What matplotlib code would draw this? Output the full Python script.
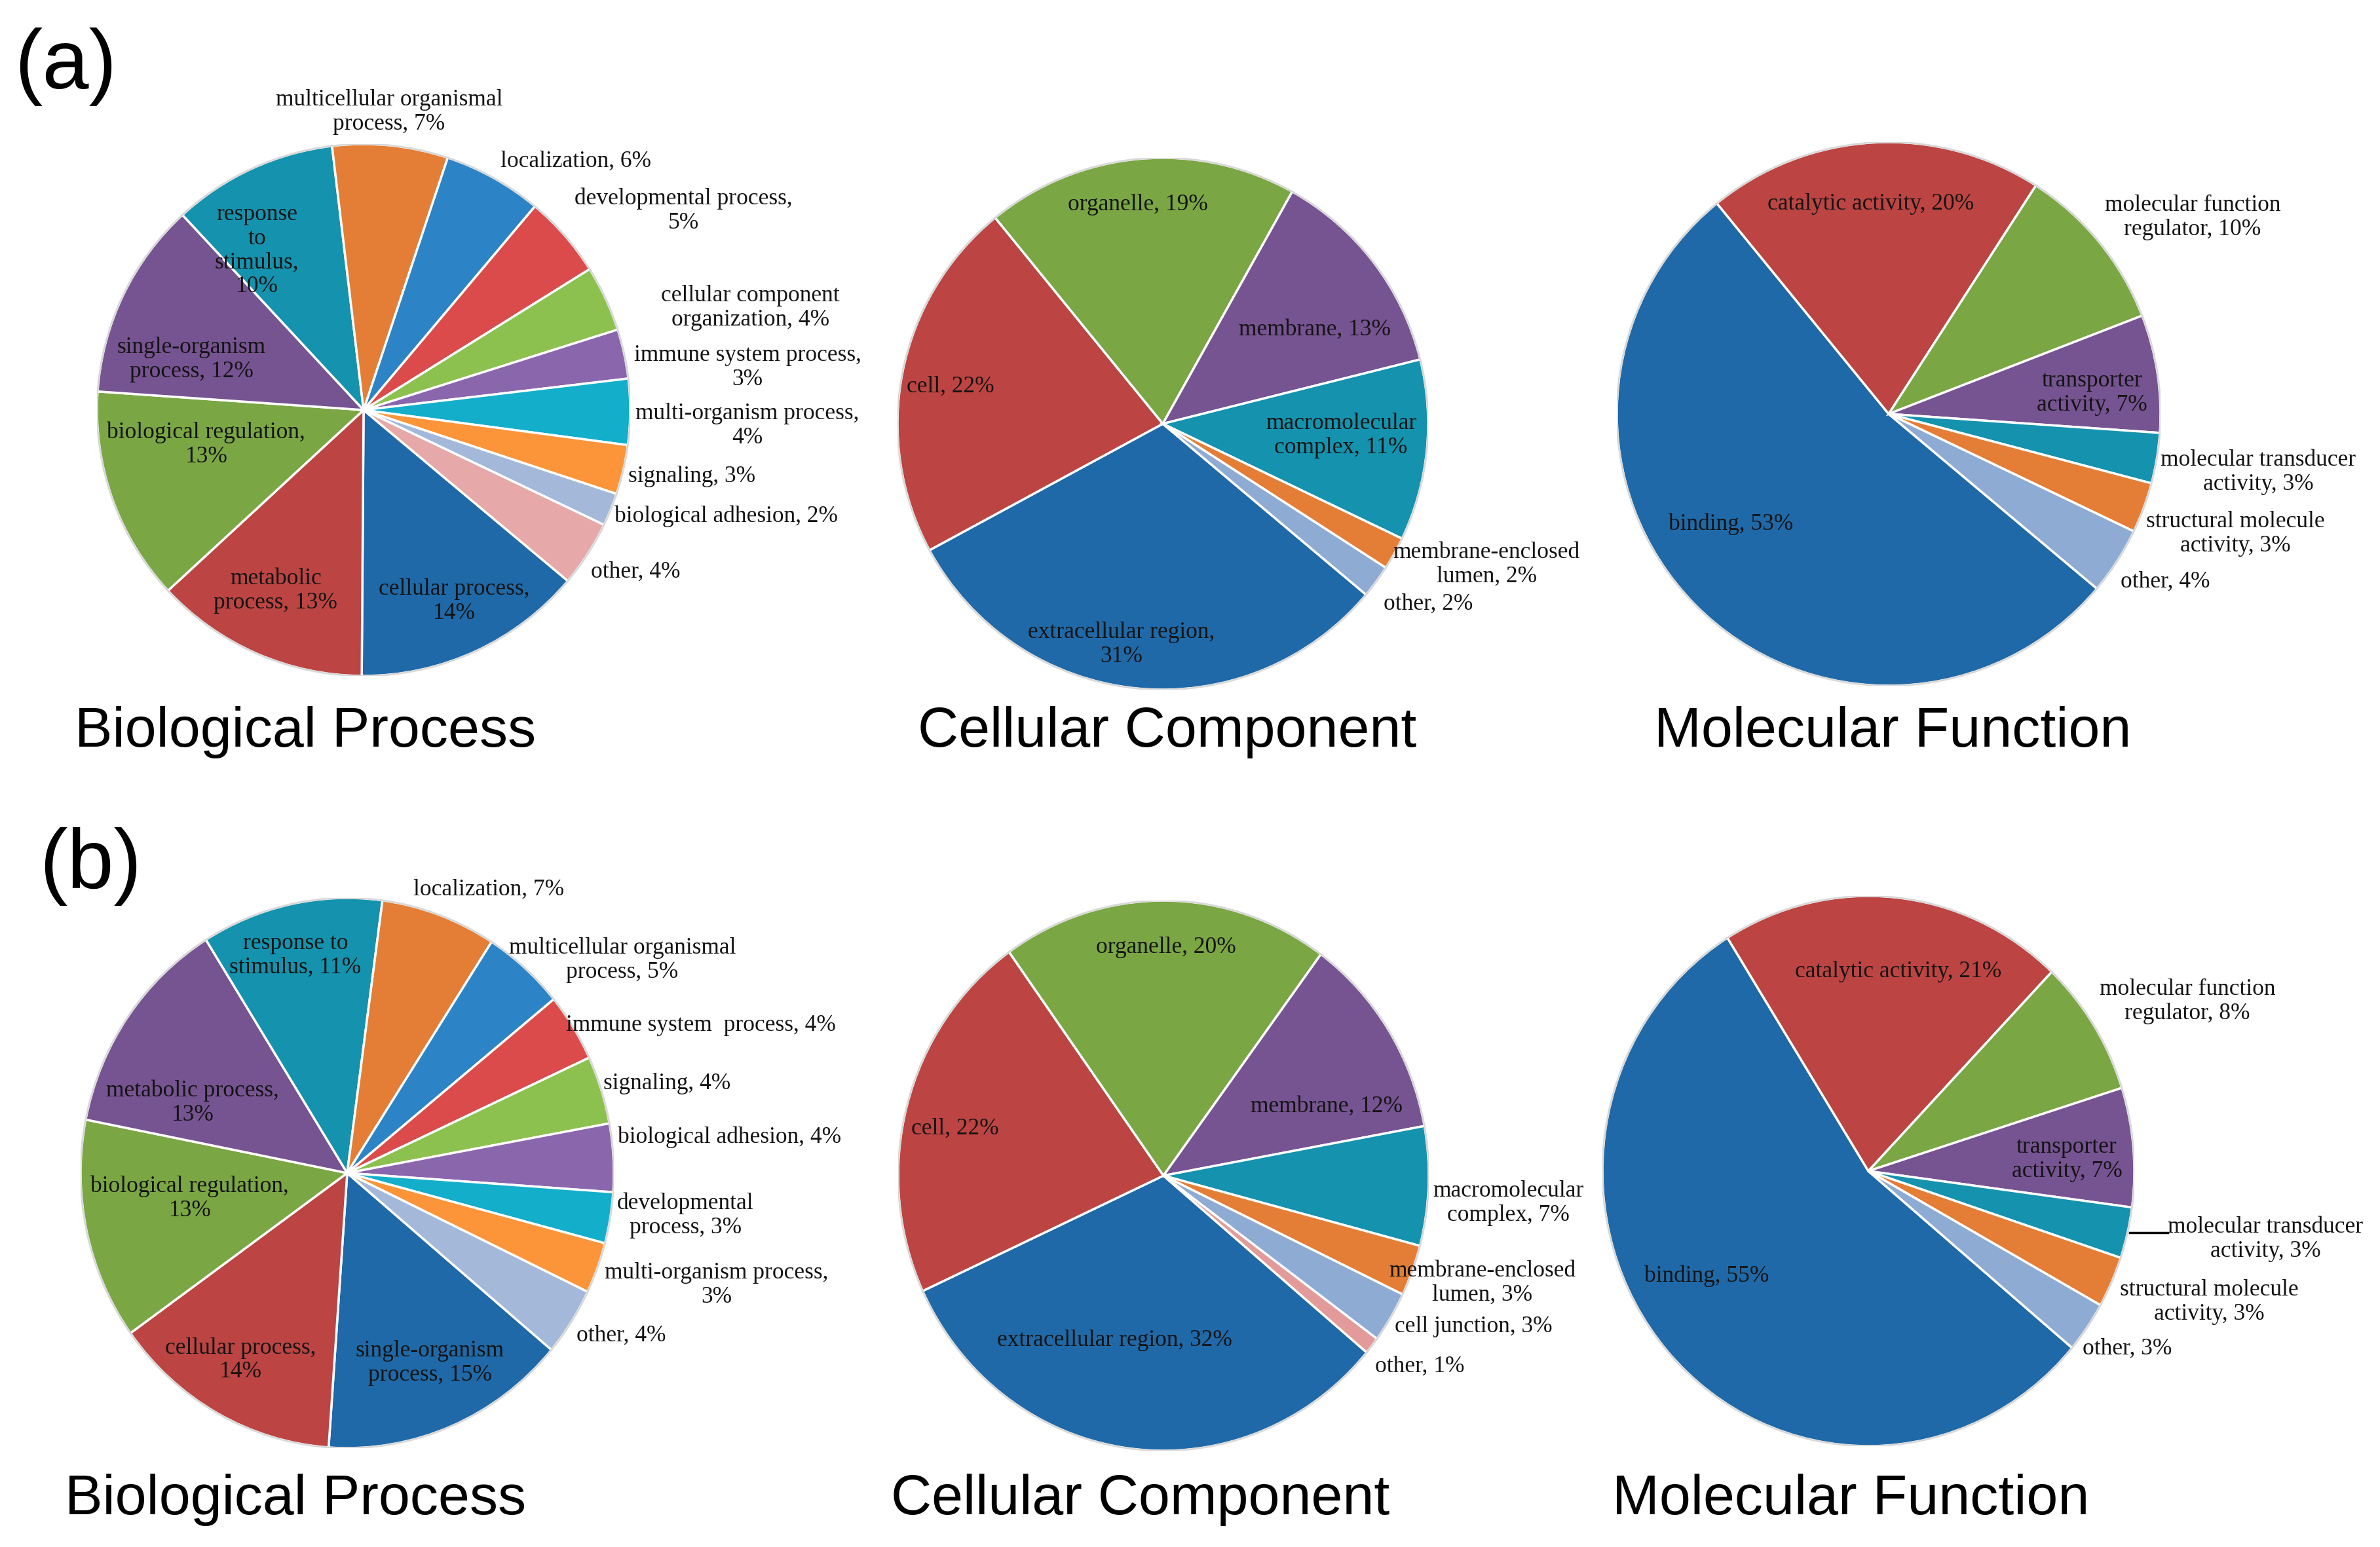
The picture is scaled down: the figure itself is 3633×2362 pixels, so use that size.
import matplotlib
matplotlib.use('Agg')
import matplotlib.pyplot as plt

### Data: GO category shares (percent), listed clockwise
## (a) Biological Process
a_bp_vals = [14, 13, 13, 12, 10, 7, 6, 5, 4, 3, 4, 3, 2, 4]
a_bp_text = ['cellular process,\n{}%', 'metabolic\nprocess, {}%', 'biological regulation,\n{}%',
             'single-organism\nprocess, {}%', 'response\nto\nstimulus,\n{}%',
             'multicellular organismal\nprocess, {}%', 'localization, {}%',
             'developmental process,\n{}%', 'cellular component\norganization, {}%',
             'immune system process,\n{}%', 'multi-organism process,\n{}%', 'signaling, {}%',
             'biological adhesion, {}%', 'other, {}%']
## (a) Cellular Component
a_cc_vals = [31, 22, 19, 13, 11, 2, 2]
a_cc_text = ['extracellular region,\n{}%', 'cell, {}%', 'organelle, {}%', 'membrane, {}%',
             'macromolecular\ncomplex, {}%', 'membrane-enclosed\nlumen, {}%', 'other, {}%']
## (a) Molecular Function
a_mf_vals = [53, 20, 10, 7, 3, 3, 4]
a_mf_text = ['binding, {}%', 'catalytic activity, {}%', 'molecular function\nregulator, {}%',
             'transporter\nactivity, {}%', 'molecular transducer\nactivity, {}%',
             'structural molecule\nactivity, {}%', 'other, {}%']
## (b) Biological Process
b_bp_vals = [15, 14, 13, 13, 11, 7, 5, 4, 4, 4, 3, 3, 4]
b_bp_text = ['single-organism\nprocess, {}%', 'cellular process,\n{}%', 'biological regulation,\n{}%',
             'metabolic process,\n{}%', 'response to\nstimulus, {}%', 'localization, {}%',
             'multicellular organismal\nprocess, {}%', 'immune system  process, {}%',
             'signaling, {}%', 'biological adhesion, {}%', 'developmental\nprocess, {}%',
             'multi-organism process,\n{}%', 'other, {}%']
## (b) Cellular Component
b_cc_vals = [32, 22, 20, 12, 7, 3, 3, 1]
b_cc_text = ['extracellular region, {}%', 'cell, {}%', 'organelle, {}%', 'membrane, {}%',
             'macromolecular\ncomplex, {}%', 'membrane-enclosed\nlumen, {}%',
             'cell junction, {}%', 'other, {}%']
## (b) Molecular Function
b_mf_vals = [55, 21, 8, 7, 3, 3, 3]
b_mf_text = ['binding, {}%', 'catalytic activity, {}%', 'molecular function\nregulator, {}%',
             'transporter\nactivity, {}%', 'molecular transducer\nactivity, {}%',
             'structural molecule\nactivity, {}%', 'other, {}%']

### Colours (Excel-like palette)
BLUE, RED, GREEN, PURPLE, TEAL, ORANGE = '#1F69A8', '#BC4442', '#7BA644', '#765391', '#1592AD', '#E47E36'
BLUE2, RED2, GREEN2, PURPLE2, TEAL2, ORANGE2 = '#2C84C6', '#DB4B4B', '#8DC14F', '#8A66AC', '#13AECA', '#FC9539'
LBLUE, LBLUE2, PINK, PINK2 = '#A4B9DA', '#8EABD4', '#E6A8A8', '#E39A9A'

a_bp_cols = [BLUE, RED, GREEN, PURPLE, TEAL, ORANGE, BLUE2, RED2, GREEN2, PURPLE2, TEAL2, ORANGE2, LBLUE, PINK]
a_cc_cols = [BLUE, RED, GREEN, PURPLE, TEAL, ORANGE, LBLUE2]
a_mf_cols = [BLUE, RED, GREEN, PURPLE, TEAL, ORANGE, LBLUE2]
b_bp_cols = [BLUE, RED, GREEN, PURPLE, TEAL, ORANGE, BLUE2, RED2, GREEN2, PURPLE2, TEAL2, ORANGE2, LBLUE]
b_cc_cols = [BLUE, RED, GREEN, PURPLE, TEAL, ORANGE, LBLUE2, PINK2]
b_mf_cols = [BLUE, RED, GREEN, PURPLE, TEAL, ORANGE, LBLUE2]

### Label positions, in pie-radius units from the centre
a_bp_pos = [(0.34, -0.72), (-0.33, -0.68), (-0.59, -0.13), (-0.645, 0.19), (-0.40, 0.60),
            (0.096, 1.12), (0.795, 0.936), (1.20, 0.75), (1.45, 0.385), (1.44, 0.16),
            (1.44, -0.06), (1.23, -0.25), (1.36, -0.40), (1.02, -0.61)]
a_cc_pos = [(-0.156, -0.83), (-0.80, 0.14), (-0.094, 0.825), (0.573, 0.353), (0.672, -0.044),
            (1.22, -0.53), (1.00, -0.677)]
a_mf_pos = [(-0.58, -0.405), (-0.065, 0.773), (1.118, 0.723), (0.749, 0.077), (1.36, -0.214),
            (1.275, -0.441), (1.017, -0.617)]
b_bp_pos = [(0.31, -0.69), (-0.40, -0.68), (-0.59, -0.093), (-0.58, 0.255), (-0.194, 0.79),
            (0.531, 1.03), (1.032, 0.774), (1.327, 0.536), (1.199, 0.324), (1.435, 0.131),
            (1.268, -0.155), (1.386, -0.407), (1.027, -0.59)]
b_cc_pos = [(-0.185, -0.598), (-0.785, 0.171), (0.01, 0.829), (0.615, 0.252), (1.301, -0.10),
            (1.202, -0.39), (1.168, -0.548), (0.965, -0.693)]
b_mf_pos = [(-0.608, -0.381), (0.113, 0.726), (1.20, 0.617), (0.746, 0.043), (1.493, -0.248),
            (1.281, -0.476), (0.973, -0.645)]

### Figure parameters (pixel layout of a 3633 x 2362 canvas)
W, H = 3633, 2362
fig = plt.figure(figsize=(W / 100, H / 100), dpi=100)
LABEL_FONT = 'Liberation Serif'
TITLE_FONT = 'Liberation Sans'


def draw_pie(cx, cy, rx, ry, vals, cols, texts, pos):
    ax = fig.add_axes([(cx - rx) / W, 1 - (cy + ry) / H, 2 * rx / W, 2 * ry / H])
    ax.pie(vals, colors=cols, startangle=-40, counterclock=False, radius=1,
           wedgeprops=dict(edgecolor='white', linewidth=2.5))
    ax.add_patch(plt.Circle((0, 0), 1.0, fill=False, edgecolor='#d8d8d8', linewidth=2))
    ax.set_aspect('auto')
    ax.set_xlim(-1, 1)
    ax.set_ylim(-1, 1)
    ax.axis('off')
    for v, t, (ux, uy) in zip(vals, texts, pos):
        ax.text(ux, uy, t.format(v), ha='center', va='center', fontsize=25.5,
                family=LABEL_FONT, color='#141414', linespacing=1.15)
    return ax


draw_pie(555, 626, 407, 406, a_bp_vals, a_bp_cols, a_bp_text, a_bp_pos)
draw_pie(1775, 647, 405, 406, a_cc_vals, a_cc_cols, a_cc_text, a_cc_pos)
draw_pie(2883, 632, 415, 415, a_mf_vals, a_mf_cols, a_mf_text, a_mf_pos)
draw_pie(530, 1791, 407, 420, b_bp_vals, b_bp_cols, b_bp_text, b_bp_pos)
draw_pie(1776, 1795, 405, 420, b_cc_vals, b_cc_cols, b_cc_text, b_cc_pos)
ax_bmf = draw_pie(2852, 1788, 406, 420, b_mf_vals, b_mf_cols, b_mf_text, b_mf_pos)
## leader line for the transducer label
ax_bmf.plot([0.983, 1.126], [-0.224, -0.224], color='black', lw=2.5, clip_on=False)

### Panel titles
titles = ['Biological Process', 'Cellular Component', 'Molecular Function']
for x, t in zip([466, 1782, 2889], titles):
    fig.text(x / W, 1 - 1140 / H, t, ha='center', va='baseline', fontsize=62, family=TITLE_FONT)
for x, t in zip([451, 1741, 2825], titles):
    fig.text(x / W, 1 - 2312 / H, t, ha='center', va='baseline', fontsize=62, family=TITLE_FONT)

fig.text(22 / W, 1 - 135 / H, '(a)', ha='left', va='baseline', fontsize=92, family=TITLE_FONT)
fig.text(60 / W, 1 - 1356 / H, '(b)', ha='left', va='baseline', fontsize=92, family=TITLE_FONT)

fig.savefig('out.png', dpi=100, facecolor='white')
